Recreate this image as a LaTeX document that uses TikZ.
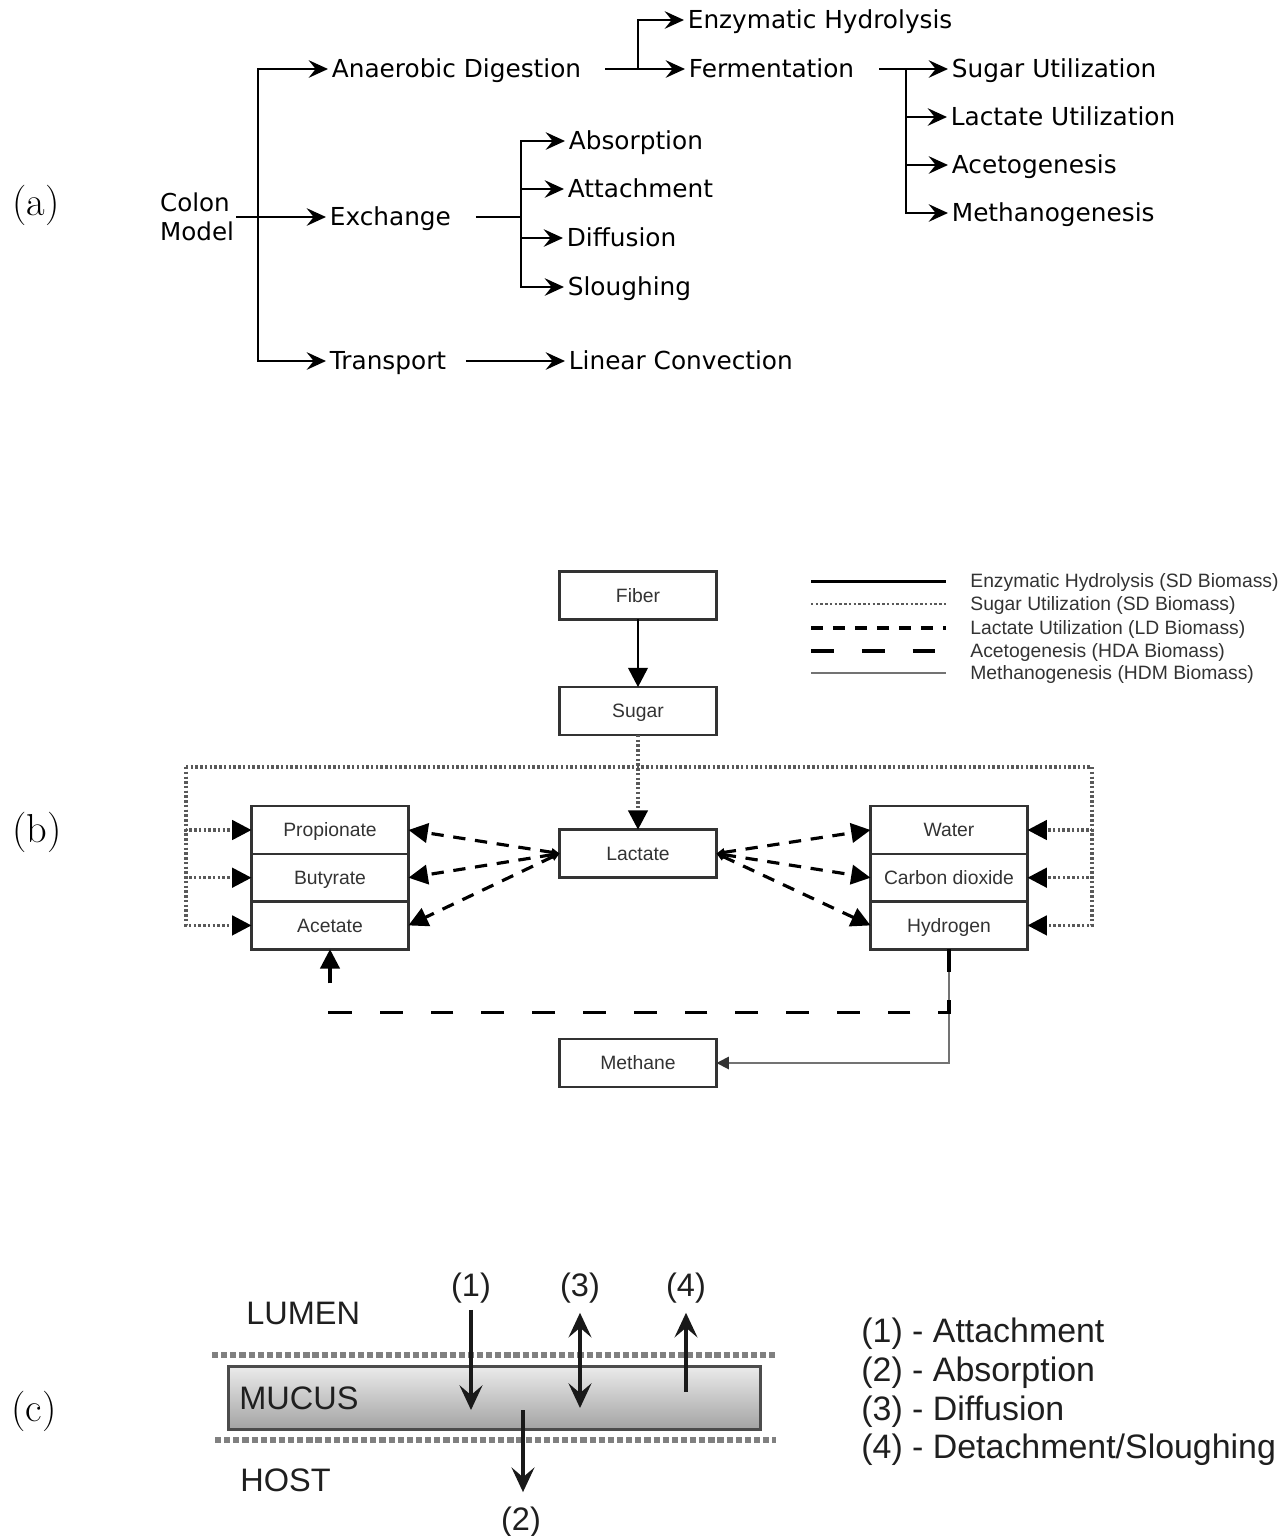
\documentclass[tikz,border=0pt]{standalone}
\usepackage{fontspec}
\usetikzlibrary{arrows.meta}
\newfontfamily\dejavu{DejaVu Sans}
\newfontfamily\libsans{Liberation Sans}

\begin{document}
\begin{tikzpicture}[x=0.02cm, y=-0.02cm,
    hydro/.style={line width=1.7pt, -{Triangle[length=11pt,width=11pt]}},
    sugarline/.style={draw=black!65, line width=1.9pt, dash pattern=on 1.4pt off 1.3pt, -{Triangle[length=11pt,width=11pt,color=black]}},
    lactline/.style={line width=1.8pt, dash pattern=on 7pt off 5.5pt, {Triangle[length=4.5pt,width=4.5pt]}-{Triangle[length=11pt,width=11pt]}},
    acetoline/.style={line width=1.8pt, dash pattern=on 13pt off 15.9pt, -{Triangle[length=11pt,width=11pt]}},
    methline/.style={draw=black!55, line width=1pt, -{Triangle[length=7pt,width=7pt,color=black!80]}},
    memb/.style={draw=black!50, line width=3.6pt, dash pattern=on 3.5pt off 1.7pt},
    partlabel/.style={font=\fontsize{23}{28}\selectfont}]
  \useasboundingbox (0,0) rectangle (1287,1536);

  % (a) model tree
  \node[partlabel] (pa) at (36,205) {(a)};
  \node[align=left, anchor=west, inner sep=1pt, font=\dejavu\fontsize{14}{16.5}\selectfont] (cm) at (158,217) {Colon\\Model};

  \begin{scope}[every node/.style={anchor=west, inner sep=2pt, text height=10pt, text depth=0pt, font=\dejavu\fontsize{14.1}{16.5}\selectfont}]
    \node (ad) at (328,69) {Anaerobic Digestion};
    \node (ex) at (326,217) {Exchange};
    \node (tr) at (326,361) {Transport};
    \node (eh) at (684,20) {Enzymatic Hydrolysis};
    \node (fe) at (685,69) {Fermentation};
    \node (su) at (948,69) {Sugar Utilization};
    \node (lu) at (947,117) {Lactate Utilization};
    \node (ag) at (948,165) {Acetogenesis};
    \node (mg) at (948,213) {Methanogenesis};
    \node (ab) at (565,141) {Absorption};
    \node (at) at (564,189) {Attachment};
    \node (di) at (563,238) {Diffusion};
    \node (sl) at (564,287) {Sloughing};
    \node (lc) at (565,361) {Linear Convection};
  \end{scope}

  \coordinate (j0) at (258,217);
  \coordinate (j1) at (638,69);
  \coordinate (j2) at (906,69);
  \coordinate (j3) at (521,217);

  \begin{scope}[->, >={Stealth[length=11pt,width=10pt,inset=4pt]}, line width=1.3pt]
    \draw (cm) -- (ex);
    \draw (j0) |- (ad);
    \draw (j0) |- (tr);
    \draw[shorten <=11.5pt] (ad) -- (fe);
    \draw (j1) |- (eh);
    \draw[shorten <=12pt] (fe) -- (su);
    \draw (j2) |- (lu);
    \draw (j2) |- (ag);
    \draw (j2) |- (mg);
    \draw[-, shorten <=12pt] (ex) -- (j3);
    \draw (j3) |- (ab);
    \draw (j3) |- (at);
    \draw (j3) |- (di);
    \draw (j3) |- (sl);
    \draw[shorten <=9pt] (tr) -- (lc);
  \end{scope}

  % (b) reaction network
  \node[partlabel] (pb) at (37,832) {(b)};

  \begin{scope}[every node/.style={rectangle, draw=black!80, line width=1.5pt, minimum width=3.14cm, minimum height=0.954cm, inner sep=0pt, outer sep=0pt, text height=7.9pt, text depth=0pt, font=\libsans\fontsize{11}{13}\selectfont, text=black!80}]
    \node (fib) at (638,595.5) {Fiber};
    \node (sug) at (638,711) {Sugar};
    \node (lac) at (638,853.5) {Lactate};
    \node (met) at (638,1063) {Methane};
    \node (pro) at (330,830) {Propionate};
    \node (but) at (330,877.7) {Butyrate};
    \node (ace) at (330,925.4) {Acetate};
    \node (wat) at (949,830) {Water};
    \node (cdo) at (949,877.7) {Carbon dioxide};
    \node (hyd) at (949,925.4) {Hydrogen};
  \end{scope}

  \coordinate (dl) at (186,767);
  \coordinate (dr) at (1092,767);

  \draw[hydro] (fib) -- (sug);
  \draw[sugarline] (sug) -- (lac);
  \draw[sugarline, -] (dl) -- (dr);
  \foreach \n in {pro,but,ace}
    \draw[sugarline] (dl) |- (\n);
  \foreach \n in {wat,cdo,hyd}
    \draw[sugarline] (dr) |- (\n);
  \foreach \n in {pro,but,ace}
    \draw[lactline] (lac.west) -- (\n.east);
  \foreach \n in {wat,cdo,hyd}
    \draw[lactline] (lac.east) -- (\n.west);
  \draw[methline] (hyd) |- (met);
  \draw[acetoline] (hyd.south) -- ++(0,63) -| (ace);

  % legend
  \begin{scope}[every node/.style={anchor=west, inner sep=0pt, text height=7.9pt, text depth=0pt, font=\libsans\fontsize{11}{13}\selectfont, text=black!80}]
    \node (k1) at (970,581) {Enzymatic Hydrolysis (SD Biomass)};
    \node (k2) at (970,604) {Sugar Utilization (SD Biomass)};
    \node (k3) at (970,628) {Lactate Utilization (LD Biomass)};
    \node (k4) at (970,651) {Acetogenesis (HDA Biomass)};
    \node (k5) at (970,673) {Methanogenesis (HDM Biomass)};
  \end{scope}
  \draw[hydro, -] (k1.west) ++(-159,0) -- ++(135,0);
  \draw[sugarline, -, line width=1.5pt] (k2.west) ++(-159,0) -- ++(135,0);
  \draw[lactline, -] (k3.west) ++(-159,0) -- ++(135,0);
  \draw[acetoline, -] (k4.west) ++(-159,0) -- ++(135,0);
  \draw[methline, -] (k5.west) ++(-159,0) -- ++(135,0);

  % (c) mucus layer
  \node[partlabel] (pc) at (34,1411) {(c)};

  \draw[memb] (212,1355) -- (776,1355);
  \draw[memb] (215,1440) -- (776,1440);
  \node[draw=black!70, line width=1.7pt, top color=black!8, bottom color=black!36, minimum width=10.64cm, minimum height=1.26cm, inner sep=0pt] (muc) at (494.5,1398) {};

  \begin{scope}[every node/.style={inner sep=0pt, text height=13.2pt, text depth=0pt, font=\libsans\fontsize{18.5}{22}\selectfont, text=black!88}]
    \node[anchor=west] (lum) at (246,1313) {LUMEN};
    \node[anchor=west] (mut) at (239,1398) {MUCUS};
    \node[anchor=west] (hst) at (240,1480) {HOST};
    \node (n1) at (471,1285) {(1)};
    \node (n3) at (580,1285) {(3)};
    \node (n4) at (686,1285) {(4)};
    \node (n2) at (521,1519) {(2)};
  \end{scope}
  \begin{scope}[every node/.style={anchor=west, inner sep=0pt, text height=13.6pt, text depth=0pt, font=\libsans\fontsize{19.3}{22}\selectfont, text=black!88}]
    \node (d1) at (861,1331) {(1) - Attachment};
    \node (d2) at (861,1370) {(2) - Absorption};
    \node (d3) at (861,1409) {(3) - Diffusion};
    \node (d4) at (861,1447) {(4) - Detachment/Sloughing};
  \end{scope}

  \coordinate (e1) at (471,1410);
  \coordinate (e3) at (580,1408);
  \coordinate (s4) at (686,1392);
  \coordinate (s2) at (523,1410);

  \begin{scope}[->, >={Stealth[length=14pt,width=13pt,inset=5.5pt]}, line width=2.8pt, black!90]
    \draw[shorten <=7.4pt] (n1) -- (e1);
    \draw[<->, shorten <=9pt] (n3) -- (e3);
    \draw[shorten >=9pt] (s4) -- (n4);
    \draw[shorten >=8.5pt] (s2) -- (s2 |- n2.north);
  \end{scope}
\end{tikzpicture}
\end{document}
